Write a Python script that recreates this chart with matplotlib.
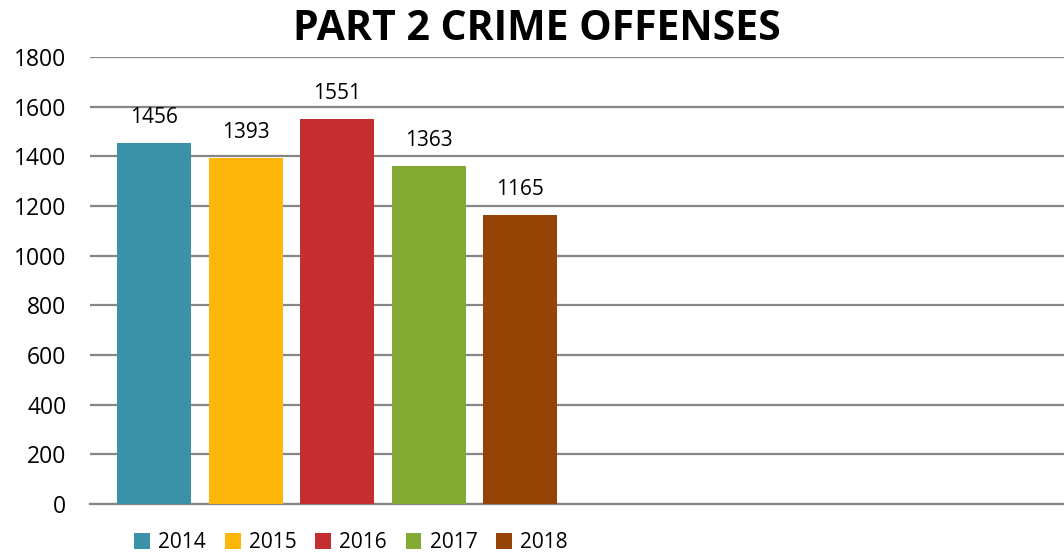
import matplotlib
matplotlib.use("Agg")
import matplotlib.pyplot as plt
from matplotlib.patches import Patch

# data
years = ["2014", "2015", "2016", "2017", "2018"]
offenses = [1456, 1393, 1551, 1363, 1165]
colors = ["#3A91A8", "#FFB60B", "#C52E31", "#84AA34", "#954405"]
y_ticks = [0, 200, 400, 600, 800, 1000, 1200, 1400, 1600, 1800]

plt.rcParams["font.family"] = ["Open Sans", "DejaVu Sans"]

fig = plt.figure(figsize=(10.64, 5.55), dpi=100)
ax = fig.add_axes([0.0846, 0.092, 0.9154, 0.805])

x = list(range(len(years)))
bars = ax.bar(x, offenses, width=0.81, color=colors, zorder=3)

for xi, v in zip(x, offenses):
    ax.text(xi, v + 60, str(v), ha="center", va="bottom", fontsize=15, color="#000000")

ax.set_xlim(-0.70, 9.94)
ax.set_ylim(0, 1800)
ax.set_yticks(y_ticks)
ax.set_yticklabels([str(t) for t in y_ticks], fontsize=16.5)
ax.set_xticks([])
ax.tick_params(axis="y", length=0, pad=17)
ax.grid(axis="y", color="#868686", linewidth=1.6, zorder=0)
for s in ["left", "right", "top"]:
    ax.spines[s].set_visible(False)
ax.spines["bottom"].set_color("#868686")
ax.spines["bottom"].set_linewidth(1.6)

fig.text(0.505, 0.947, "PART 2 CRIME OFFENSES", ha="center", va="center",
         fontsize=29.5, fontweight="bold")

handles = [Patch(facecolor=c, label=y) for c, y in zip(colors, years)]
fig.legend(handles=handles, loc="center", bbox_to_anchor=(0.33, 0.022), ncol=5,
           frameon=False, fontsize=15, handlelength=0.75, handleheight=0.75,
           handletextpad=0.4, columnspacing=0.9)

fig.savefig("out.png", dpi=100)
